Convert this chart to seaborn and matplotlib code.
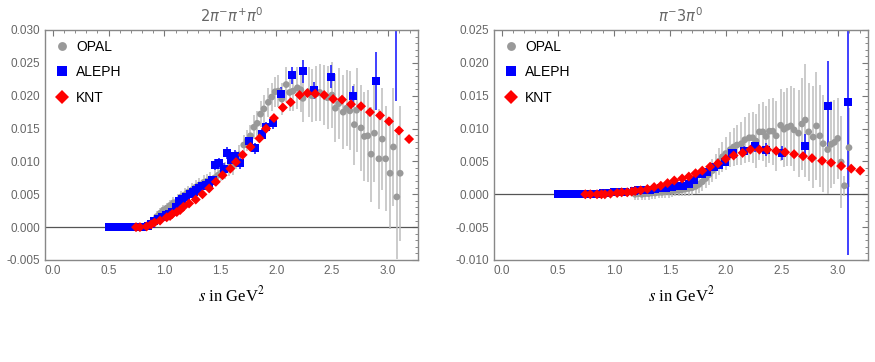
import matplotlib
matplotlib.use('Agg')
import matplotlib.pyplot as plt
import seaborn as sns
import pandas as pd
import numpy as np
from matplotlib.ticker import MultipleLocator, FormatStrFormatter

# ---- 2pi- pi+ pi0 ----
opal3_s = [0.93, 0.96, 0.99, 1.02, 1.05, 1.08, 1.12, 1.15, 1.18, 1.21, 1.25, 1.28, 1.31, 1.35,
           1.38, 1.41, 1.45, 1.48, 1.51, 1.54, 1.58, 1.61, 1.64, 1.67, 1.71, 1.74, 1.77, 1.80,
           1.83, 1.86, 1.89, 1.93, 1.96, 1.99, 2.02, 2.05, 2.09, 2.12, 2.15, 2.19, 2.22, 2.24,
           2.29, 2.32, 2.36, 2.39, 2.43, 2.46, 2.50, 2.53, 2.56, 2.60, 2.63, 2.66, 2.70, 2.72,
           2.76, 2.79, 2.82, 2.85, 2.88, 2.92, 2.95, 2.98, 3.02, 3.05, 3.08, 3.11]
opal3_v = [0.0016, 0.0021, 0.0026, 0.0029, 0.0033, 0.0037, 0.0041, 0.0046, 0.0049, 0.0053, 0.0057,
           0.0061, 0.0064, 0.0068, 0.0070, 0.0072, 0.0075, 0.0079, 0.0083, 0.0086, 0.0091, 0.0094,
           0.0102, 0.0110, 0.0125, 0.0132, 0.0139, 0.0152, 0.0158, 0.0172, 0.0180, 0.0190, 0.0198,
           0.0206, 0.0207, 0.0195, 0.0217, 0.0205, 0.0207, 0.0212, 0.0209, 0.0196, 0.0206, 0.0200,
           0.0203, 0.0205, 0.0201, 0.0197, 0.0201, 0.0181, 0.0188, 0.0175, 0.0181, 0.0177, 0.0156,
           0.0178, 0.0151, 0.0138, 0.0139, 0.0111, 0.0143, 0.0104, 0.0134, 0.0104, 0.0082, 0.0122,
           0.0046, 0.0082]
opal3_e = [0.0008, 0.0008, 0.0008, 0.0008, 0.0009, 0.0009, 0.0009, 0.0009, 0.0010, 0.0010, 0.0010,
           0.0010, 0.0011, 0.0011, 0.0011, 0.0012, 0.0012, 0.0012, 0.0013, 0.0013, 0.0013, 0.0014,
           0.0014, 0.0015, 0.0015, 0.0016, 0.0017, 0.0018, 0.0019, 0.0020, 0.0021, 0.0022, 0.0022,
           0.0023, 0.0024, 0.0025, 0.0027, 0.0029, 0.0030, 0.0032, 0.0034, 0.0036, 0.0038, 0.0040,
           0.0042, 0.0044, 0.0046, 0.0048, 0.0050, 0.0052, 0.0054, 0.0056, 0.0058, 0.0060, 0.0062,
           0.0064, 0.0066, 0.0068, 0.0070, 0.0072, 0.0074, 0.0076, 0.0078, 0.0080, 0.0085, 0.0090,
           0.0095, 0.0103]

aleph3_s = [0.50, 0.55, 0.60, 0.65, 0.70, 0.75, 0.80, 0.85, 0.88, 0.91, 0.94, 0.98, 1.01, 1.04,
            1.07, 1.10, 1.13, 1.16, 1.19, 1.23, 1.26, 1.28, 1.31, 1.34, 1.37, 1.40, 1.43, 1.45,
            1.49, 1.53, 1.56, 1.60, 1.63, 1.68, 1.76, 1.81, 1.87, 1.91, 1.97, 2.04, 2.14, 2.24,
            2.34, 2.49, 2.69, 2.89, 3.07]
aleph3_v = [0.0, 0.0, 0.0, 0.0, 0.0, 0.0, 0.0, 0.0002, 0.0005, 0.0010, 0.0012, 0.0016, 0.0018,
            0.0020, 0.0023, 0.0030, 0.0040, 0.0043, 0.0046, 0.0051, 0.0054, 0.0056, 0.0059, 0.0062,
            0.0064, 0.0067, 0.0071, 0.0095, 0.0097, 0.0089, 0.0113, 0.0103, 0.0108, 0.0097, 0.0131,
            0.0120, 0.0141, 0.0152, 0.0158, 0.0203, 0.0231, 0.0237, 0.0208, 0.0229, 0.0199, 0.0223,
            0.0310]
aleph3_e = [0.0001, 0.0001, 0.0001, 0.0001, 0.0001, 0.0001, 0.0001, 0.0002, 0.0003, 0.0003, 0.0003,
            0.0004, 0.0004, 0.0004, 0.0004, 0.0005, 0.0005, 0.0005, 0.0005, 0.0006, 0.0006, 0.0006,
            0.0006, 0.0006, 0.0006, 0.0007, 0.0007, 0.0008, 0.0008, 0.0008, 0.0009, 0.0009, 0.0009,
            0.0009, 0.0008, 0.0008, 0.0008, 0.0008, 0.0008, 0.0010, 0.0013, 0.0017, 0.0013, 0.0017,
            0.0016, 0.0044, 0.0118]

knt3_s = [0.745, 0.78, 0.84, 0.88, 0.91, 0.96, 1.02, 1.05, 1.07, 1.11, 1.14, 1.17, 1.22, 1.28,
          1.34, 1.40, 1.46, 1.52, 1.59, 1.64, 1.70, 1.77, 1.85, 1.91, 1.98, 2.06, 2.13, 2.21,
          2.28, 2.35, 2.43, 2.51, 2.59, 2.67, 2.76, 2.84, 2.93, 3.01, 3.10, 3.19]
knt3_v = [0.0, 0.0, 0.0001, 0.0004, 0.0007, 0.0010, 0.0015, 0.0017, 0.0020, 0.0023, 0.0026, 0.0031,
          0.0036, 0.0042, 0.0050, 0.0059, 0.0069, 0.0079, 0.0089, 0.0099, 0.0110, 0.0122, 0.0135,
          0.0150, 0.0166, 0.0182, 0.0190, 0.0201, 0.0204, 0.0203, 0.0201, 0.0195, 0.0194, 0.0187,
          0.0184, 0.0175, 0.0170, 0.0161, 0.0147, 0.0134]
knt3_e = [0.0, 0.0, 0.0001, 0.0001, 0.0001, 0.0001, 0.0001, 0.0001, 0.0002, 0.0002, 0.0002, 0.0002,
          0.0002, 0.0002, 0.0002, 0.0003, 0.0003, 0.0003, 0.0003, 0.0004, 0.0004, 0.0004, 0.0004,
          0.0005, 0.0005, 0.0006, 0.0006, 0.0006, 0.0006, 0.0005, 0.0005, 0.0005, 0.0005, 0.0005,
          0.0005, 0.0005, 0.0005, 0.0004, 0.0004, 0.0003]

# ---- pi- 3pi0 ----
opal4_s = [1.19, 1.22, 1.25, 1.28, 1.31, 1.34, 1.37, 1.40, 1.43, 1.46, 1.49, 1.52, 1.55, 1.58,
           1.61, 1.64, 1.67, 1.70, 1.73, 1.76, 1.79, 1.82, 1.85, 1.88, 1.91, 1.94, 1.97, 2.00,
           2.04, 2.07, 2.10, 2.14, 2.17, 2.21, 2.24, 2.27, 2.30, 2.33, 2.36, 2.39, 2.42, 2.45,
           2.49, 2.52, 2.55, 2.58, 2.61, 2.65, 2.68, 2.71, 2.74, 2.78, 2.81, 2.84, 2.87, 2.91,
           2.94, 2.97, 3.00, 3.03, 3.06, 3.10]
opal4_v = [0.0000, 0.0001, 0.0000, 0.0001, 0.0001, 0.0002, 0.0002, 0.0003, 0.0003, 0.0004, 0.0004,
           0.0005, 0.0006, 0.0006, 0.0007, 0.0008, 0.0009, 0.0010, 0.0012, 0.0015, 0.0019, 0.0024,
           0.0030, 0.0036, 0.0043, 0.0050, 0.0057, 0.0062, 0.0068, 0.0072, 0.0075, 0.0077, 0.0083,
           0.0086, 0.0086, 0.0081, 0.0095, 0.0095, 0.0088, 0.0096, 0.0096, 0.0089, 0.0105, 0.0099,
           0.0102, 0.0104, 0.0098, 0.0093, 0.0107, 0.0113, 0.0095, 0.0087, 0.0104, 0.0089, 0.0077,
           0.0068, 0.0076, 0.0079, 0.0085, 0.0049, 0.0013, 0.0071]
opal4_e = [0.0009, 0.0009, 0.0009, 0.0009, 0.0009, 0.0009, 0.0009, 0.0009, 0.0009, 0.0009, 0.0009,
           0.0009, 0.0009, 0.0009, 0.0010, 0.0010, 0.0011, 0.0011, 0.0012, 0.0013, 0.0014, 0.0015,
           0.0016, 0.0018, 0.0019, 0.0021, 0.0023, 0.0025, 0.0027, 0.0029, 0.0031, 0.0033, 0.0035,
           0.0037, 0.0039, 0.0041, 0.0043, 0.0045, 0.0047, 0.0049, 0.0051, 0.0053, 0.0055, 0.0057,
           0.0059, 0.0061, 0.0063, 0.0066, 0.0070, 0.0086, 0.0075, 0.0078, 0.0082, 0.0078, 0.0074,
           0.0068, 0.0066, 0.0064, 0.0062, 0.0070, 0.0015, 0.0060]

aleph4_s = [0.50, 0.55, 0.60, 0.65, 0.70, 0.75, 0.80, 0.85, 0.90, 0.95, 1.00, 1.05, 1.10, 1.18,
            1.22, 1.27, 1.32, 1.37, 1.42, 1.47, 1.52, 1.57, 1.62, 1.67, 1.72, 1.79, 1.83, 1.89,
            1.94, 1.99, 2.06, 2.16, 2.26, 2.36, 2.50, 2.71, 2.91, 3.09]
aleph4_v = [0.0, 0.0, 0.0, 0.0, 0.0, 0.0, 0.0, 0.0, 0.0002, 0.0002, 0.0003, 0.0003, 0.0003, 0.0005,
            0.0006, 0.0006, 0.0007, 0.0008, 0.0009, 0.0010, 0.0011, 0.0012, 0.0013, 0.0016, 0.0022,
            0.0031, 0.0034, 0.0042, 0.0044, 0.0049, 0.0062, 0.0066, 0.0073, 0.0068, 0.0063, 0.0074,
            0.0135, 0.0141]
aleph4_e = [0.0001, 0.0001, 0.0001, 0.0001, 0.0001, 0.0001, 0.0001, 0.0001, 0.0001, 0.0001, 0.0001,
            0.0001, 0.0001, 0.0002, 0.0002, 0.0002, 0.0002, 0.0002, 0.0002, 0.0002, 0.0002, 0.0002,
            0.0003, 0.0003, 0.0003, 0.0004, 0.0004, 0.0004, 0.0005, 0.0005, 0.0006, 0.0007, 0.0009,
            0.0010, 0.0011, 0.0017, 0.0068, 0.0234]

knt4_s = [0.745, 0.79, 0.85, 0.89, 0.92, 0.97, 1.03, 1.07, 1.12, 1.16, 1.19, 1.24, 1.30, 1.36,
          1.42, 1.48, 1.54, 1.61, 1.67, 1.73, 1.79, 1.86, 1.93, 2.00, 2.07, 2.15, 2.22, 2.30,
          2.37, 2.45, 2.53, 2.61, 2.69, 2.77, 2.86, 2.94, 3.03, 3.12, 3.20]
knt4_v = [0.0, 0.0, 0.0, 0.0, 0.0, 0.0001, 0.0002, 0.0003, 0.0003, 0.0004, 0.0005, 0.0006, 0.0008,
          0.0011, 0.0013, 0.0017, 0.0021, 0.0024, 0.0027, 0.0032, 0.0036, 0.0042, 0.0047, 0.0054,
          0.0059, 0.0063, 0.0068, 0.0068, 0.0068, 0.0066, 0.0064, 0.0061, 0.0058, 0.0055, 0.0051,
          0.0048, 0.0043, 0.0039, 0.0036]
knt4_e = [0.0, 0.0, 0.0, 0.0, 0.0, 0.0, 0.0001, 0.0001, 0.0001, 0.0001, 0.0001, 0.0001, 0.0001,
          0.0001, 0.0001, 0.0002, 0.0002, 0.0002, 0.0002, 0.0002, 0.0002, 0.0003, 0.0003, 0.0003,
          0.0003, 0.0003, 0.0003, 0.0003, 0.0003, 0.0003, 0.0003, 0.0003, 0.0003, 0.0003, 0.0003,
          0.0003, 0.0003, 0.0003, 0.0002]

titles = [r'$2\pi^{-}\pi^{+}\pi^{0}$', r'$\pi^{-}3\pi^{0}$']
ylims = [(-0.005, 0.030), (-0.010, 0.025)]

sns.set_style('white')
plt.rcParams['font.family'] = ['Liberation Sans', 'DejaVu Sans']
plt.rcParams['mathtext.fontset'] = 'stix'

colors = {'OPAL': '#999999', 'ALEPH': '#0000ff', 'KNT': '#ff0000'}
ecolors = {'OPAL': '#bdbdbd', 'ALEPH': '#2020ff', 'KNT': '#ff0000'}
markers = {'OPAL': 'o', 'ALEPH': 's', 'KNT': 'D'}
sizes = {'OPAL': 24, 'ALEPH': 34, 'KNT': 26}


def panel(ax, series, title, ylim):
    frames = []
    for name, (s, v, e) in series.items():
        frames.append(pd.DataFrame({'s': s, 'v': v, 'e': e, 'src': name}))
    df = pd.concat(frames, ignore_index=True)

    ax.axhline(0, color='#555555', lw=0.9, zorder=1)
    for name in ['OPAL', 'ALEPH', 'KNT']:
        d = df[df.src == name]
        ax.errorbar(d.s, d.v, yerr=d.e, fmt='none', ecolor=ecolors[name],
                    elinewidth=1.2 if name != 'OPAL' else 1.1, zorder=2)
    sns.scatterplot(data=df, x='s', y='v', hue='src', style='src', size='src',
                    palette=colors, markers=markers, sizes=sizes,
                    hue_order=['OPAL', 'ALEPH', 'KNT'], linewidth=0, ax=ax, zorder=3)

    h, l = ax.get_legend_handles_labels()
    leg = ax.legend(h, l, loc='upper left', frameon=False, fontsize=10,
                    labelspacing=0.83, handlelength=1.0, handletextpad=0.55,
                    borderaxespad=0.3, borderpad=0.4, markerscale=1.3)
    for t in leg.get_texts():
        t.set_color('black')

    ax.set_xlim(-0.07, 3.27)
    ax.set_ylim(*ylim)
    ax.xaxis.set_major_locator(MultipleLocator(0.5))
    ax.xaxis.set_minor_locator(MultipleLocator(0.1))
    ax.yaxis.set_major_locator(MultipleLocator(0.005))
    ax.yaxis.set_minor_locator(MultipleLocator(0.001))
    ax.xaxis.set_major_formatter(FormatStrFormatter('%.1f'))
    ax.yaxis.set_major_formatter(FormatStrFormatter('%.3f'))
    ax.tick_params(which='both', direction='in', top=True, right=True,
                   color='#777777', labelsize=8.5, labelcolor='#666666')
    ax.tick_params(which='major', length=4, width=0.8)
    ax.tick_params(which='minor', length=2, width=0.6)
    for sp in ax.spines.values():
        sp.set_color('#888888')
        sp.set_linewidth(1.0)
    ax.set_title(title, color='#666666', fontsize=10.5, pad=6, math_fontfamily='dejavusans')
    ax.set_xlabel(r'$s$ in GeV$^2$', fontfamily=['Liberation Serif', 'DejaVu Serif'],
                  fontsize=12, color='black', labelpad=6)
    ax.set_ylabel('')


fig = plt.figure(figsize=(8.75, 3.62), dpi=100)
ax1 = fig.add_axes([45 / 875, 1 - 260 / 362, 373 / 875, 230 / 362])
ax2 = fig.add_axes([494 / 875, 1 - 260 / 362, 374 / 875, 230 / 362])

panel(ax1, {'OPAL': (opal3_s, opal3_v, opal3_e),
            'ALEPH': (aleph3_s, aleph3_v, aleph3_e),
            'KNT': (knt3_s, knt3_v, knt3_e)}, titles[0], ylims[0])
panel(ax2, {'OPAL': (opal4_s, opal4_v, opal4_e),
            'ALEPH': (aleph4_s, aleph4_v, aleph4_e),
            'KNT': (knt4_s, knt4_v, knt4_e)}, titles[1], ylims[1])

fig.savefig('out.png', dpi=100, facecolor='white')
plt.close(fig)
